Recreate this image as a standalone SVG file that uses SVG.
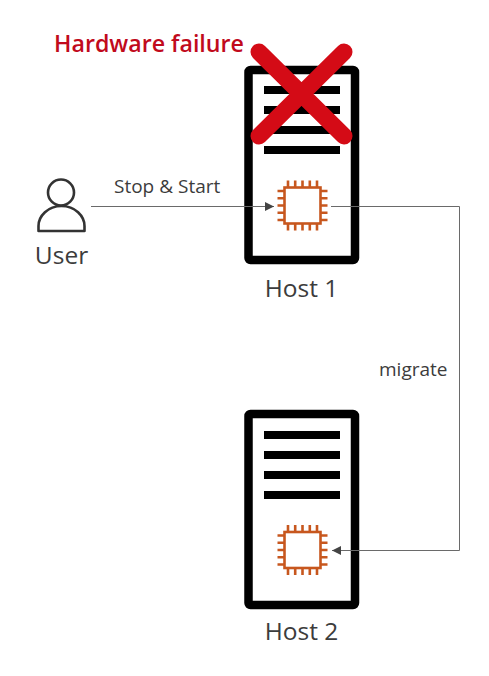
<svg xmlns="http://www.w3.org/2000/svg" width="489" height="676" viewBox="0 0 489 676">
<defs>
<style>
text{font-family:"Open Sans","Noto Sans",sans-serif;fill:#3c3c3c}
.lbl{font-size:19px}
.host{font-size:24.500px}
.frame{fill:#fff;stroke:#000;stroke-width:8.500;stroke-linejoin:round}
.bar{fill:#000}
.chip{fill:none;stroke:#c7571e;stroke-width:2.600}
.conn{fill:none;stroke:#6a6a6a;stroke-width:1}
</style>
<marker id="arrow" markerUnits="userSpaceOnUse" markerWidth="10" markerHeight="10" refX="9" refY="4.500" orient="auto"><path d="M0 0L9 4.500L0 9Z" fill="#444"/></marker>
<g id="chipshape">
<rect class="chip" x="-18" y="-18" width="36" height="36"/>
<path class="chip" d="M-14.500 -18v-7M-7.300 -18v-7M0 -18v-7M7.300 -18v-7M14.500 -18v-7M-14.500 18v7M-7.300 18v7M0 18v7M7.300 18v7M14.500 18v7M-18 -14.500h-7M-18 -7.300h-7M-18 0h-7M-18 7.300h-7M-18 14.500h-7M18 -14.500h7M18 -7.300h7M18 0h7M18 7.300h7M18 14.500h7"/>
</g>
<g id="bars">
<rect class="bar" x="264" y="0" width="76" height="8"/>
<rect class="bar" x="264" y="20" width="76" height="8"/>
<rect class="bar" x="264" y="40" width="76" height="8"/>
<rect class="bar" x="264" y="60" width="76" height="8"/>
</g>
</defs>
<g id="host1">
<rect class="frame" x="248.500" y="70" width="106.500" height="190" rx="2"/>
<use href="#bars" y="86"/>
<use href="#chipshape" x="302.500" y="205.500"/>
<text class="host" x="301.500" y="297" text-anchor="middle">Host 1</text>
</g>
<g id="host2">
<rect class="frame" x="248.500" y="414" width="106.500" height="191" rx="2"/>
<use href="#bars" y="431"/>
<use href="#chipshape" x="302.500" y="550"/>
<text class="host" x="301.500" y="640" text-anchor="middle">Host 2</text>
</g>
<g id="user">
<circle cx="61" cy="192.500" r="13" fill="none" stroke="#333" stroke-width="2.600"/>
<path d="M38.500 231V226C38.500 216 48 206 61.500 206C75 206 84.500 216 84.500 226V231Z" fill="none" stroke="#333" stroke-width="2.600" stroke-linejoin="round"/>
<text class="host" x="61.500" y="264" text-anchor="middle">User</text>
</g>
<g id="failure">
<path d="M259 52L344 136M344 52L259 136" fill="none" stroke="#d40b16" stroke-width="17" stroke-linecap="round"/>
<text x="54" y="52" font-size="23.200" font-weight="600" style="fill:#c10a1c">Hardware failure</text>
</g>
<g id="connectors">
<path class="conn" d="M91 206.500H274" marker-end="url(#arrow)"/>
<path class="conn" d="M331 206.500H459.500V550.500H332" marker-end="url(#arrow)"/>
<text class="lbl" x="114" y="193">Stop &amp; Start</text>
<text class="lbl" x="379" y="376">migrate</text>
</g>
</svg>
